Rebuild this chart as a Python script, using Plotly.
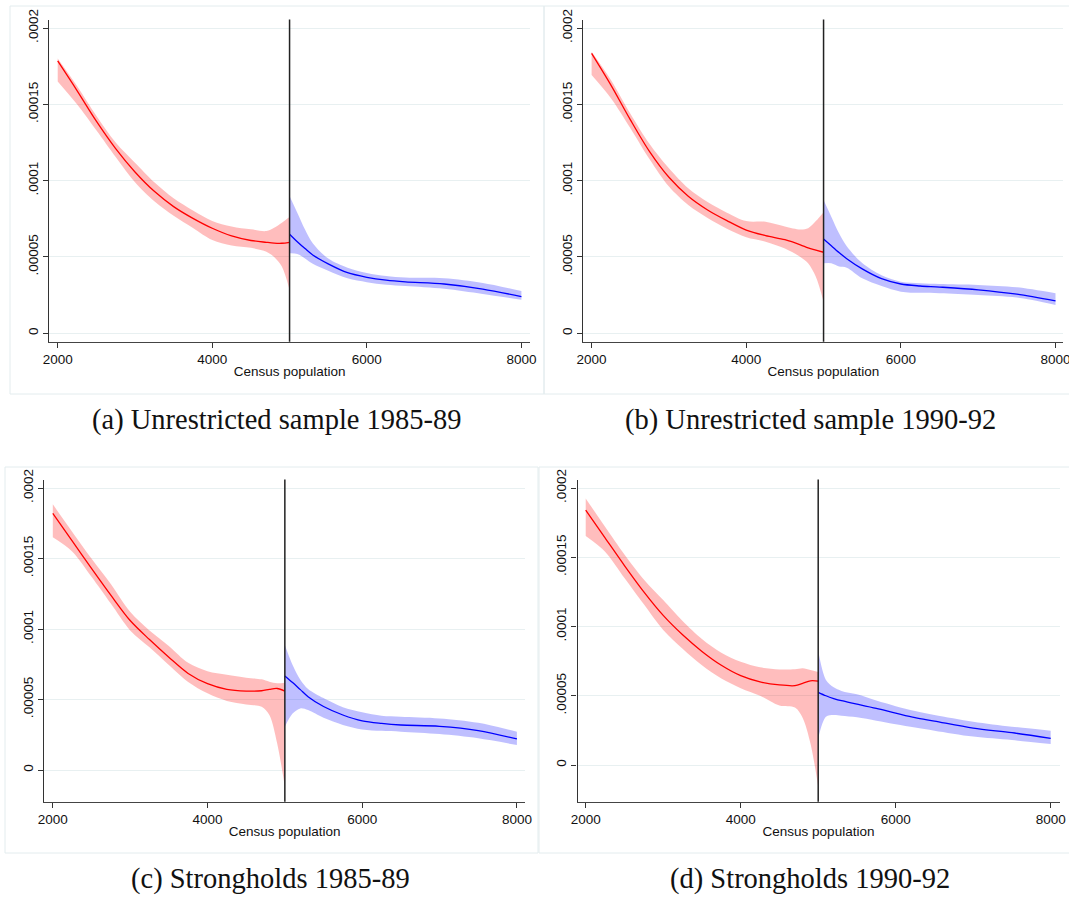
import plotly.graph_objects as go

W, H = 1069, 897

# ---------------- data (values in units of 1e-4) ----------------
red_x = [2000, 2250, 2500, 2750, 3000, 3250, 3500, 3750, 4000, 4250, 4500, 4700, 4800, 4900, 5000]
blue_x = [5000, 5100, 5200, 5300, 5500, 5750, 6000, 6250, 6500, 7000, 7500, 8000]

# (a) Unrestricted sample 1985-89
a_red_fit = [1.784, 1.59, 1.39, 1.21, 1.057, 0.93, 0.83, 0.753, 0.688, 0.638, 0.608, 0.596, 0.591, 0.590, 0.596]
a_red_hi = [1.80, 1.62, 1.425, 1.25, 1.118, 0.99, 0.885, 0.805, 0.736, 0.70, 0.681, 0.670, 0.692, 0.725, 0.762]
a_red_lo = [1.65, 1.50, 1.33, 1.155, 0.99, 0.865, 0.77, 0.69, 0.611, 0.575, 0.560, 0.535, 0.500, 0.437, 0.284]
a_blue_fit = [0.649, 0.60, 0.555, 0.513, 0.455, 0.397, 0.367, 0.348, 0.337, 0.323, 0.29, 0.240]
a_blue_hi = [0.90, 0.79, 0.68, 0.59, 0.49, 0.43, 0.395, 0.375, 0.365, 0.360, 0.33, 0.277]
a_blue_lo = [0.524, 0.52, 0.49, 0.455, 0.41, 0.36, 0.335, 0.318, 0.31, 0.292, 0.258, 0.220]

# (b) Unrestricted sample 1990-92
b_red_fit = [1.834, 1.626, 1.40, 1.19, 1.022, 0.898, 0.808, 0.738, 0.676, 0.640, 0.613, 0.58, 0.560, 0.545, 0.531]
b_red_hi = [1.845, 1.66, 1.44, 1.24, 1.081, 0.95, 0.86, 0.79, 0.735, 0.73, 0.70, 0.68, 0.688, 0.735, 0.793]
b_red_lo = [1.692, 1.54, 1.345, 1.14, 0.961, 0.84, 0.755, 0.685, 0.629, 0.60, 0.555, 0.50, 0.459, 0.37, 0.207]
b_blue_fit = [0.618, 0.573, 0.529, 0.489, 0.422, 0.358, 0.323, 0.31, 0.303, 0.285, 0.256, 0.212]
b_blue_hi = [0.873, 0.764, 0.655, 0.57, 0.46, 0.38, 0.338, 0.328, 0.323, 0.317, 0.301, 0.262]
b_blue_lo = [0.459, 0.459, 0.437, 0.43, 0.36, 0.31, 0.273, 0.265, 0.262, 0.251, 0.234, 0.186]

# (c) Strongholds 1985-89
c_red_fit = [1.820, 1.625, 1.43, 1.24, 1.06, 0.925, 0.80, 0.685, 0.612, 0.572, 0.560, 0.562, 0.572, 0.578, 0.560]
c_red_hi = [1.884, 1.69, 1.50, 1.32, 1.123, 0.99, 0.88, 0.76, 0.70, 0.675, 0.655, 0.643, 0.626, 0.615, 0.619]
c_red_lo = [1.650, 1.55, 1.37, 1.18, 0.99, 0.87, 0.745, 0.625, 0.544, 0.49, 0.465, 0.449, 0.39, 0.19, -0.118]
c_blue_fit = [0.667, 0.62, 0.57, 0.52, 0.45, 0.39, 0.348, 0.33, 0.319, 0.31, 0.28, 0.220]
c_blue_hi = [0.887, 0.745, 0.64, 0.575, 0.51, 0.445, 0.41, 0.385, 0.378, 0.366, 0.335, 0.272]
c_blue_lo = [0.307, 0.40, 0.437, 0.425, 0.37, 0.32, 0.288, 0.278, 0.272, 0.255, 0.225, 0.177]

# (d) Strongholds 1990-92
d_red_fit = [1.841, 1.64, 1.44, 1.25, 1.08, 0.94, 0.82, 0.72, 0.645, 0.60, 0.578, 0.573, 0.59, 0.608, 0.606]
d_red_hi = [1.925, 1.72, 1.52, 1.34, 1.191, 1.04, 0.91, 0.81, 0.745, 0.705, 0.69, 0.691, 0.698, 0.686, 0.671]
d_red_lo = [1.653, 1.54, 1.35, 1.16, 0.975, 0.84, 0.72, 0.625, 0.555, 0.50, 0.43, 0.415, 0.34, 0.156, -0.156]
d_blue_fit = [0.525, 0.50, 0.48, 0.464, 0.44, 0.409, 0.375, 0.342, 0.317, 0.266, 0.233, 0.193]
d_blue_hi = [0.825, 0.614, 0.561, 0.535, 0.51, 0.465, 0.425, 0.39, 0.361, 0.313, 0.277, 0.248]
d_blue_lo = [0.193, 0.349, 0.361, 0.355, 0.344, 0.32, 0.294, 0.27, 0.248, 0.205, 0.18, 0.152]

x_ticks = [2000, 4000, 6000, 8000]
y_ticks = [0, 0.00005, 0.0001, 0.00015, 0.0002]
y_tick_text = ["0", ".00005", ".0001", ".00015", ".0002"]
x_title = "Census population"
captions = ["(a) Unrestricted sample 1985-89", "(b) Unrestricted sample 1990-92",
            "(c) Strongholds 1985-89", "(d) Strongholds 1990-92"]
cutoff = 5000

panels = [
    (a_red_fit, a_red_hi, a_red_lo, a_blue_fit, a_blue_hi, a_blue_lo),
    (b_red_fit, b_red_hi, b_red_lo, b_blue_fit, b_blue_hi, b_blue_lo),
    (c_red_fit, c_red_hi, c_red_lo, c_blue_fit, c_blue_hi, c_blue_lo),
    (d_red_fit, d_red_hi, d_red_lo, d_blue_fit, d_blue_hi, d_blue_lo),
]

# ---------------- layout geometry (pixels) ----------------
geo = [
    dict(xd=(49.4, 530.0), yd=(19.5, 341.7), xr=(1892.6, 8111), yr=(-5.50e-6, 2.0557e-4)),
    dict(xd=(583.3, 1063.4), yd=(19.5, 341.7), xr=(1892.6, 8102), yr=(-5.50e-6, 2.0557e-4)),
    dict(xd=(44.4, 524.9), yd=(479.5, 801.7), xr=(1891.4, 8103.4), yr=(-2.248e-5, 2.0603e-4)),
    dict(xd=(577.5, 1059.5), yd=(479.5, 801.7), xr=(1894.2, 8113.5), yr=(-2.65e-5, 2.0614e-4)),
]
borders = [(10, 6, 544, 394), (544, 6, 1075, 394), (5, 467, 538, 853), (539, 467, 1075, 853)]
caption_pos = [(277, 420), (810, 420), (270, 879), (810, 879)]

RED_FILL = "rgba(255,0,0,0.26)"
BLUE_FILL = "rgba(0,0,255,0.25)"
GRID = "#e8f0f1"
BORDER = "#e3ecee"
tick_font = dict(family="Liberation Sans, Arial, sans-serif", size=13.5, color="#111")

fig = go.Figure()
layout = dict(width=W, height=H, margin=dict(l=0, r=0, t=0, b=0, autoexpand=False),
              paper_bgcolor="white", plot_bgcolor="white", showlegend=False)
shapes = []
annotations = []

def s(v):
    return [t * 1e-4 for t in v]

for i, (rf, rh, rl, bf, bh, bl) in enumerate(panels):
    n = "" if i == 0 else str(i + 1)
    xa, ya = "x" + n, "y" + n
    sp = dict(width=0, shape="spline", smoothing=0.9)
    fig.add_trace(go.Scatter(x=red_x, y=s(rl), mode="lines", line=sp, xaxis=xa, yaxis=ya, hoverinfo="skip"))
    fig.add_trace(go.Scatter(x=red_x, y=s(rh), mode="lines", line=sp, fill="tonexty", fillcolor=RED_FILL,
                             xaxis=xa, yaxis=ya, hoverinfo="skip"))
    fig.add_trace(go.Scatter(x=blue_x, y=s(bl), mode="lines", line=sp, xaxis=xa, yaxis=ya, hoverinfo="skip"))
    fig.add_trace(go.Scatter(x=blue_x, y=s(bh), mode="lines", line=sp, fill="tonexty", fillcolor=BLUE_FILL,
                             xaxis=xa, yaxis=ya, hoverinfo="skip"))
    fig.add_trace(go.Scatter(x=red_x, y=s(rf), mode="lines",
                             line=dict(color="#ff0000", width=1.3, shape="spline", smoothing=0.9),
                             xaxis=xa, yaxis=ya))
    fig.add_trace(go.Scatter(x=blue_x, y=s(bf), mode="lines",
                             line=dict(color="#0000ff", width=1.3, shape="spline", smoothing=0.9),
                             xaxis=xa, yaxis=ya))

    g = geo[i]
    xd = [g["xd"][0] / W, g["xd"][1] / W]
    yd = [1 - g["yd"][1] / H, 1 - g["yd"][0] / H]
    layout["xaxis" + n] = dict(domain=xd, range=list(g["xr"]), anchor=ya, tickvals=x_ticks,
                               ticktext=[str(v) for v in x_ticks], ticks="outside", ticklen=5,
                               tickcolor="#333", tickwidth=1, showline=True, linecolor="#444",
                               linewidth=1.2, showgrid=False, zeroline=False, tickfont=tick_font,
                               automargin=False, ticklabeloverflow="allow",
                               title=dict(text=x_title, font=tick_font, standoff=0))
    layout["yaxis" + n] = dict(domain=yd, range=list(g["yr"]), anchor=xa, tickvals=y_ticks,
                               ticktext=y_tick_text, tickangle=-90, ticks="outside", ticklen=5,
                               tickcolor="#333", tickwidth=1, showline=True, linecolor="#333",
                               linewidth=1.2, showgrid=True, gridcolor=GRID, gridwidth=1,
                               zeroline=False, tickfont=tick_font, automargin=False,
                               ticklabeloverflow="allow")
    shapes.append(dict(type="line", xref=xa, yref=ya + " domain", x0=cutoff, x1=cutoff, y0=0, y1=1,
                       line=dict(color="#222", width=1.5), layer="above"))
    bx0, by0, bx1, by1 = borders[i]
    shapes.append(dict(type="rect", xref="paper", yref="paper", x0=bx0 / W, x1=bx1 / W,
                       y0=1 - by1 / H, y1=1 - by0 / H, line=dict(color=BORDER, width=1),
                       fillcolor="rgba(0,0,0,0)", layer="below"))
    cx, cy = caption_pos[i]
    annotations.append(dict(text=captions[i], xref="paper", yref="paper", x=cx / W, y=1 - cy / H,
                            xanchor="center", yanchor="middle", showarrow=False,
                            font=dict(family="Liberation Serif, Times New Roman, serif", size=28.5, color="#111")))

layout["shapes"] = shapes
layout["annotations"] = annotations
fig.update_layout(**layout)
fig.write_html("out.html")
